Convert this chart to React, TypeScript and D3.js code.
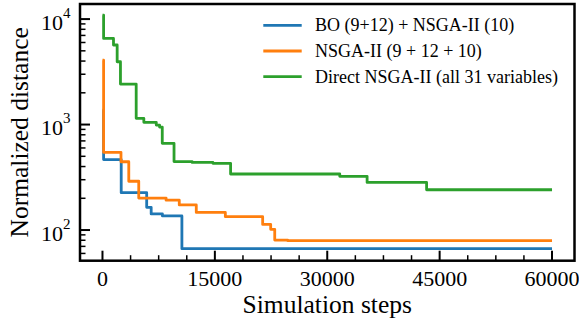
import * as d3 from 'd3';

// series: steps (x) and normalized distance (y), step-post
const blueSteps = [0, 150, 2500, 5900, 6500, 8000, 10600, 60000];
const blueValues = [1370, 466, 226, 164, 142, 136, 66.5, 66.5];

const orangeSteps = [0, 150, 2470, 3510, 4840, 8490, 10250, 12520, 16400, 21380, 22450, 22990, 24720, 60000];
const orangeValues = [4080, 545, 444, 290, 201, 192, 173, 147, 134, 113, 101.5, 80.4, 79.2, 79.2];

const greenSteps = [0, 150, 1470, 1960, 2400, 4500, 5520, 7180, 7620, 7980, 9550, 11960, 14740, 17100, 31670, 35320, 43260, 60000];
const greenValues = [10900, 6560, 5680, 3940, 2420, 1146, 1050, 988, 946, 664, 446, 438, 429, 340, 323, 283, 241, 241];

const seriesLabels = ['BO (9+12) + NSGA-II (10)', 'NSGA-II (9 + 12 + 10)', 'Direct NSGA-II (all 31 variables)'];
const xTicks = [0, 15000, 30000, 45000, 60000];
const yTicks = [2, 3, 4]; // exponents

const COLORS = ['#1f77b4', '#ff7f0e', '#2ca02c'];
const FONT = "'Liberation Serif', 'DejaVu Serif', serif";

const BOX = { left: 80, right: 574.5, top: 4, bottom: 260.7 };

const App = () => {
  const width = 579;
  const height = 328;

  const xScale = d3.scaleLinear().domain([-3000, 63000]).range([BOX.left, BOX.right]);
  const yScale = d3.scaleLog().domain([51.2, 13900]).range([BOX.bottom, BOX.top]);

  const series = [
    { steps: blueSteps, values: blueValues },
    { steps: orangeSteps, values: orangeValues },
    { steps: greenSteps, values: greenValues },
  ];

  const line = d3
    .line<[number, number]>()
    .x((d) => xScale(d[0]))
    .y((d) => yScale(d[1]))
    .curve(d3.curveStepAfter);

  // minor ticks
  const xMinor = d3.range(-3750, 63750, 3750).filter((v) => v > -3000 && v < 63000 && v % 15000 !== 0);
  const yMinor: number[] = [];
  [1, 2, 3].forEach((e) => {
    for (let m = 2; m <= 9; m++) {
      const v = m * Math.pow(10, e);
      if (v > 51.2 && v < 13900) yMinor.push(v);
    }
  });

  return (
    <svg width={width} height={height} style={{ position: 'absolute', left: 0, top: 0, fontFamily: FONT }}>
      <rect width={width} height={height} fill="#fff" />
      {series.map((s, i) => (
        <path
          key={i}
          d={line(s.steps.map((x, j) => [x, s.values[j]] as [number, number])) ?? ''}
          fill="none"
          stroke={COLORS[i]}
          strokeWidth={2.8}
          strokeLinejoin="round"
        />
      ))}

      {/* x ticks, pointing in */}
      {xTicks.map((v) => (
        <g key={v}>
          <line x1={xScale(v)} x2={xScale(v)} y1={BOX.bottom} y2={BOX.bottom - 10} stroke="#000" strokeWidth={2} />
          <text x={xScale(v)} y={285.5} textAnchor="middle" fontSize={22} style={{ fontFamily: FONT }}>
            {v}
          </text>
        </g>
      ))}
      {xMinor.map((v) => (
        <line key={v} x1={xScale(v)} x2={xScale(v)} y1={BOX.bottom} y2={BOX.bottom - 5.5} stroke="#000" strokeWidth={1.5} />
      ))}

      {/* y ticks */}
      {yTicks.map((e) => {
        const y = yScale(Math.pow(10, e));
        return (
          <g key={e}>
            <line x1={BOX.left} x2={BOX.left + 10} y1={y} y2={y} stroke="#000" strokeWidth={2} />
            <text x={70.5} y={y + 10.5} textAnchor="end" fontSize={22} style={{ fontFamily: FONT }}>
              10
              <tspan dy={-12} fontSize={15}>
                {e}
              </tspan>
            </text>
          </g>
        );
      })}
      {yMinor.map((v) => (
        <line key={v} x1={BOX.left} x2={BOX.left + 5.5} y1={yScale(v)} y2={yScale(v)} stroke="#000" strokeWidth={1.5} />
      ))}

      {/* spines */}
      <rect
        x={BOX.left}
        y={BOX.top}
        width={BOX.right - BOX.left}
        height={BOX.bottom - BOX.top}
        fill="none"
        stroke="#000"
        strokeWidth={2.5}
      />

      {/* axis labels */}
      <text x={(BOX.left + BOX.right) / 2} y={313} textAnchor="middle" fontSize={25.5} style={{ fontFamily: FONT }}>
        Simulation steps
      </text>
      <text
        transform={`translate(28,${(BOX.top + BOX.bottom) / 2}) rotate(-90)`}
        textAnchor="middle"
        fontSize={25.5}
        style={{ fontFamily: FONT }}
      >
        Normalized distance
      </text>

      {/* legend */}
      {seriesLabels.map((label, i) => {
        const y = 25.3 + i * 25.7;
        return (
          <g key={label}>
            <line x1={263.3} x2={301.7} y1={y} y2={y} stroke={COLORS[i]} strokeWidth={2.8} />
            <text x={315} y={y + 6} fontSize={18} style={{ fontFamily: FONT }}>
              {label}
            </text>
          </g>
        );
      })}
    </svg>
  );
};

export default App;
